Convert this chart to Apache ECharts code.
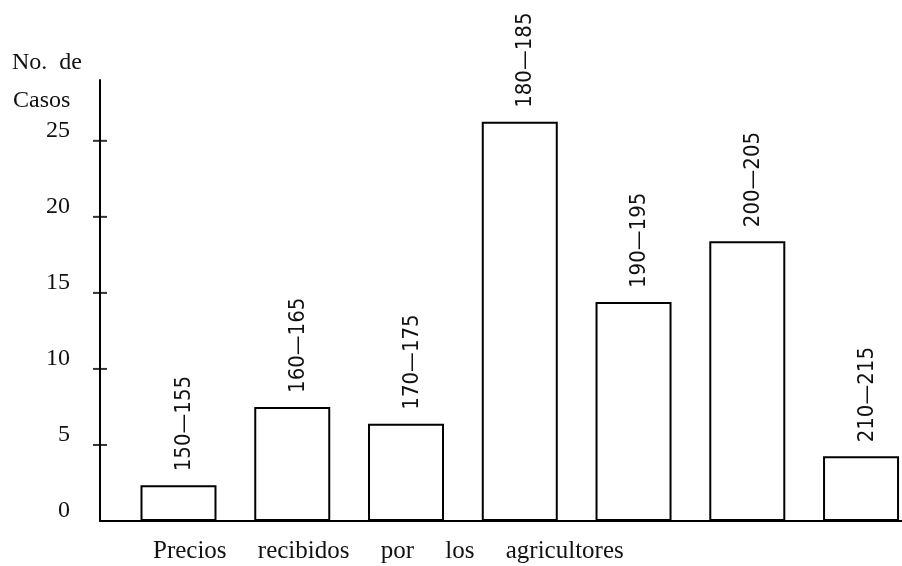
<!DOCTYPE html>
<html>
<head>
<meta charset="utf-8">
<script src="https://cdn.jsdelivr.net/npm/echarts@6/dist/echarts.min.js"></script>
<style>
  html, body { margin: 0; padding: 0; background: #fff; }
  #chart { width: 902px; height: 566px; }
</style>
</head>
<body>
<div id="chart"></div>
<script>
// clases de precio (etiquetas de las barras)
const clases = ['150—155', '160—165', '170—175', '180—185', '190—195', '200—205', '210—215'];
// punto medio de cada clase, usado en el eje x
const marcas = [152.5, 162.5, 172.5, 182.5, 192.5, 202.5, 212.5];
// numero de casos
const casos = [2.35, 7.5, 6.4, 26.25, 14.4, 18.4, 4.25];
const yTicks = [0, 5, 10, 15, 20, 25];
const yMarcas = [5, 10, 15, 20, 25];

const serif = '"Liberation Serif", "DejaVu Serif", serif';
const xMin = 145.6;
const xMax = 216.1;

const chart = echarts.init(document.getElementById('chart'));

chart.setOption({
    animation: false,
    backgroundColor: '#fff',
    grid: { left: 100, right: 0, top: 80, bottom: 45 },
    xAxis: {
        type: 'value',
        min: xMin,
        max: xMax,
        axisLine: { show: true, lineStyle: { color: '#000', width: 2 } },
        axisTick: { show: false },
        axisLabel: { show: false },
        splitLine: { show: false }
    },
    yAxis: {
        type: 'value',
        min: 0,
        max: 29,
        axisLine: { show: true, lineStyle: { color: '#000', width: 2 } },
        axisTick: { show: false },
        axisLabel: {
            customValues: yTicks,
            margin: 30,
            fontFamily: serif,
            fontSize: 24,
            color: '#111',
            verticalAlign: 'bottom',
            lineHeight: 20
        },
        splitLine: { show: false }
    },
    series: [
        {
            type: 'bar',
            barWidth: 76,
            data: marcas.map((m, i) => [m, casos[i]]),
            itemStyle: { color: '#fff', borderColor: '#000', borderWidth: 2 },
            label: {
                show: true,
                position: 'top',
                distance: 14,
                rotate: 90,
                align: 'left',
                verticalAlign: 'middle',
                offset: [0, 6],
                formatter: p => clases[p.dataIndex],
                fontFamily: '"DejaVu Sans Condensed", "DejaVu Sans", sans-serif',
                fontSize: 22,
                color: '#111'
            }
        },
        {
            // marcas del eje y que cruzan la linea
            type: 'scatter',
            silent: true,
            clip: false,
            symbol: 'rect',
            symbolSize: [14, 2],
            itemStyle: { color: '#000' },
            data: yMarcas.map(v => [xMin, v]),
            z: 5
        }
    ],
    graphic: [
        {
            type: 'text',
            left: 12,
            top: 51,
            style: { text: 'No.  de', font: '24px ' + serif, fill: '#111' }
        },
        {
            type: 'text',
            left: 13,
            top: 89,
            style: { text: 'Casos', font: '24px ' + serif, fill: '#111' }
        },
        {
            type: 'text',
            left: 153,
            top: 539,
            style: {
                text: 'Precios     recibidos     por     los     agricultores',
                font: '25px ' + serif,
                fill: '#111'
            }
        }
    ]
});
</script>
</body>
</html>
